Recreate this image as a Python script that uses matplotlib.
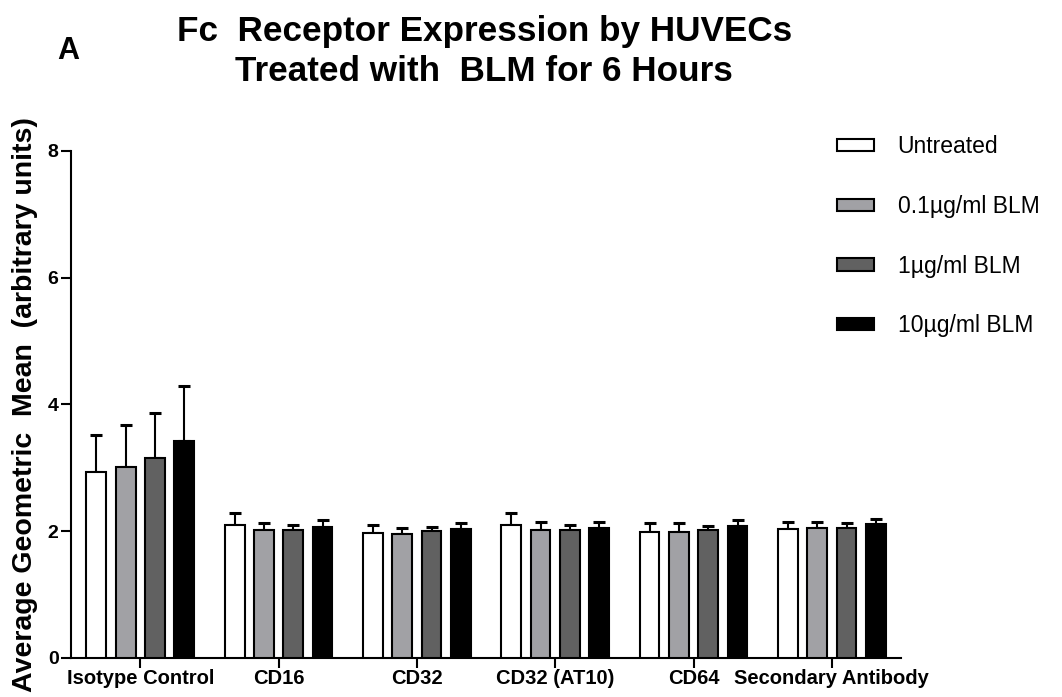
import numpy as np
import matplotlib
matplotlib.use("Agg")
import matplotlib.pyplot as plt
from matplotlib.patches import Patch

# Data
categories = ["Isotype Control", "CD16", "CD32", "CD32 (AT10)", "CD64", "Secondary Antibody"]
series_names = ["Untreated", "0.1\u00b5g/ml BLM", "1\u00b5g/ml BLM", "10\u00b5g/ml BLM"]

untreated = [2.93, 2.10, 1.97, 2.10, 1.99, 2.03]
blm_01 = [3.01, 2.01, 1.96, 2.02, 1.99, 2.04]
blm_1 = [3.15, 2.02, 2.00, 2.02, 2.01, 2.04]
blm_10 = [3.42, 2.07, 2.03, 2.05, 2.08, 2.11]

err_untreated = [0.59, 0.18, 0.12, 0.19, 0.13, 0.11]
err_01 = [0.67, 0.12, 0.09, 0.13, 0.13, 0.10]
err_1 = [0.71, 0.07, 0.07, 0.08, 0.07, 0.09]
err_10 = [0.87, 0.10, 0.09, 0.09, 0.10, 0.08]

colors = ["#ffffff", "#a1a1a5", "#616161", "#000000"]

plt.rcParams['font.family'] = ['Liberation Sans', 'DejaVu Sans']

fig = plt.figure(figsize=(10.62, 6.97), dpi=100)
ax = fig.add_axes([0.0669, 0.0564, 0.7815, 0.727])

x = np.arange(len(categories))
width = 0.144
step = 0.212
values = [untreated, blm_01, blm_1, blm_10]
errors = [err_untreated, err_01, err_1, err_10]

for i in range(4):
    pos = x + (i - 1.5) * step
    ax.bar(pos, values[i], width=width, color=colors[i], edgecolor="black", linewidth=1.5, zorder=3)
    ax.errorbar(pos, values[i], yerr=[np.zeros(len(categories)), errors[i]], fmt="none",
                ecolor="black", elinewidth=1.5, capsize=4, capthick=2.2, zorder=2)

ax.set_xlim(-0.5, 5.5)
ax.set_ylim(0, 8)
ax.set_yticks([0, 2, 4, 6, 8])
ax.set_xticks(x)
ax.set_xticklabels(categories, fontweight="bold", fontsize=14.5)
for lbl in ax.get_yticklabels():
    lbl.set_fontweight("bold")
    lbl.set_fontsize(14)
ax.spines["top"].set_visible(False)
ax.spines["right"].set_visible(False)
ax.spines["left"].set_linewidth(1.5)
ax.spines["bottom"].set_linewidth(1.5)
ax.tick_params(axis="both", width=1.5, length=7)
ax.tick_params(axis="x", pad=1)
ax.tick_params(axis="y", pad=2)

ax.set_ylabel("Average Geometric  Mean  (arbitrary units)", fontweight="bold", fontsize=20.5, labelpad=7)

fig.text(0.456, 0.955, "Fc  Receptor Expression by HUVECs", ha="center", va="center",
         fontsize=25.3, fontweight="bold")
fig.text(0.456, 0.897, "Treated with  BLM for 6 Hours", ha="center", va="center",
         fontsize=25.3, fontweight="bold")
fig.text(0.064, 0.927, "A", ha="center", va="center", fontsize=22, fontweight="bold")

handles = [Patch(facecolor=c, edgecolor="black", linewidth=1.5) for c in colors]
fig.legend(handles, series_names, loc="upper left", bbox_to_anchor=(0.788, 0.806),
           frameon=False, fontsize=16.5, handlelength=1.6, handleheight=0.45,
           labelspacing=1.6, handletextpad=1.05, borderpad=0, borderaxespad=0)

fig.savefig("out.png", dpi=100)
